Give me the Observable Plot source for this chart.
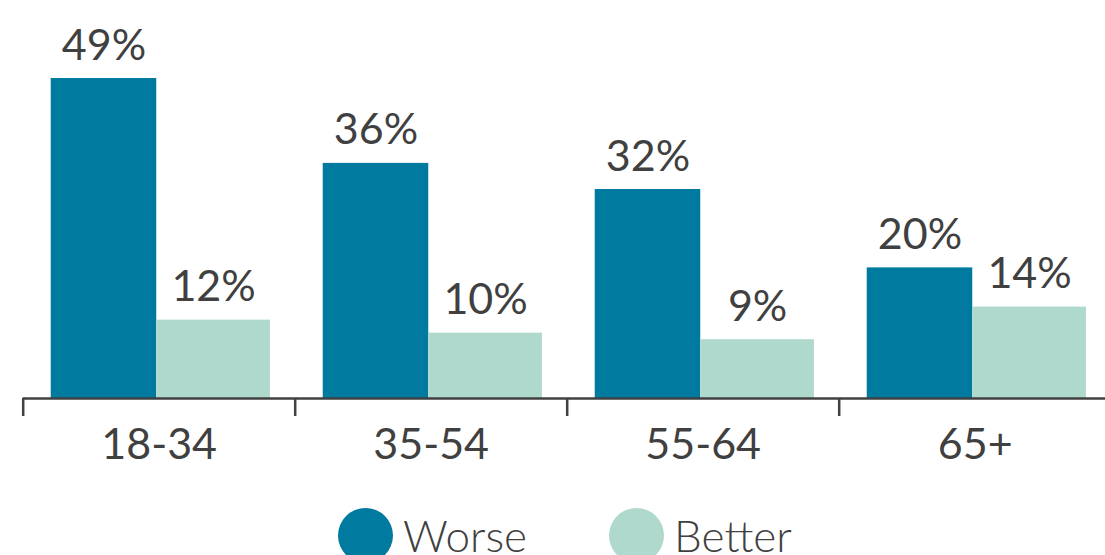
<!DOCTYPE html>
<html>
<head>
<meta charset="utf-8">
<script src="https://cdn.jsdelivr.net/npm/d3@7"></script>
<script src="https://cdn.jsdelivr.net/npm/@observablehq/plot@0.6"></script>
<style>
  html, body { margin: 0; padding: 0; background: #fff; overflow: hidden; }
  #chart { width: 1105px; }
  .legend { display: flex; align-items: center; height: 70px; padding-left: 338px; font-family: Lato, sans-serif; font-weight: 300; font-size: 44px; color: #404040; }
  .legend .item { display: flex; align-items: center; margin-right: 82px; }
  .legend .dot { width: 55px; height: 55px; border-radius: 50%; margin-right: 10px; }
</style>
</head>
<body>
<div id="chart"></div>
<script>
// Share of respondents saying things got worse / better, by age group
const ageGroups = ["18-34", "35-54", "55-64", "65+"];
const worse = [49, 36, 32, 20];
const better = [12, 10, 9, 14];
const seriesNames = ["Worse", "Better"];
const seriesColors = ["#007a9f", "#b0d9ce"];

// Each age group occupies one unit on a linear x scale; the two bars sit side by side inside it
const span = { Worse: [0.103, 0.491], Better: [0.491, 0.909] };

const rows = [];
ageGroups.forEach((g, i) => {
  rows.push({ group: g, i, series: "Worse", value: worse[i] });
  rows.push({ group: g, i, series: "Better", value: better[i] });
});
const groups = ageGroups.map((g, i) => ({ group: g, i }));

const ink = "#404040";

const chart = Plot.plot({
  width: 1105,
  height: 500,
  marginLeft: 22.7,
  marginRight: -5.7,
  marginTop: 78,
  marginBottom: 102,
  style: { fontFamily: "Lato, sans-serif", background: "#fff" },
  x: { domain: [0, ageGroups.length], axis: null },
  y: { domain: [0, d3.max(worse)], axis: null },
  color: { domain: seriesNames, range: seriesColors },
  marks: [
    Plot.rectY(rows, {
      x1: d => d.i + span[d.series][0],
      x2: d => d.i + span[d.series][1],
      y: "value",
      fill: "series"
    }),
    Plot.text(rows, {
      x: d => d.i + (span[d.series][0] + span[d.series][1]) / 2,
      y: "value",
      text: d => `${d.value}%`,
      lineAnchor: "bottom",
      dy: -19,
      fontSize: 43,
      fill: ink
    }),
    Plot.ruleY([0], { stroke: ink, strokeWidth: 2.5 }),
    Plot.axisX({
      ticks: d3.range(ageGroups.length + 1),
      tickSize: 18,
      tickFormat: () => "",
      stroke: ink,
      strokeWidth: 2.5
    }),
    Plot.text(groups, {
      x: d => d.i + 0.5,
      y: 0,
      text: "group",
      lineAnchor: "bottom",
      dy: 60,
      fontSize: 43,
      fill: ink
    })
  ]
});

document.getElementById("chart").appendChild(chart);

// Legend below the chart
const legend = document.createElement("div");
legend.className = "legend";
seriesNames.forEach((name, k) => {
  const item = document.createElement("div");
  item.className = "item";
  const dot = document.createElement("span");
  dot.className = "dot";
  dot.style.background = seriesColors[k];
  const label = document.createElement("span");
  label.textContent = name;
  item.appendChild(dot);
  item.appendChild(label);
  legend.appendChild(item);
});
document.getElementById("chart").appendChild(legend);
</script>
</body>
</html>
